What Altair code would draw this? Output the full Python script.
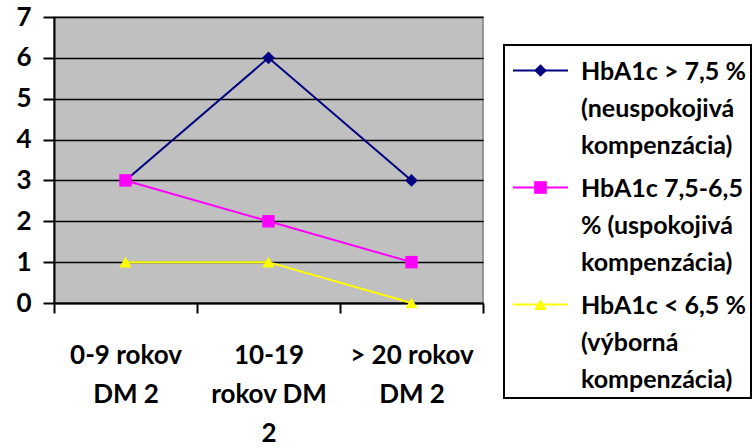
import json

import altair as alt
import pandas as pd

# Categories (diabetes duration) and the three HbA1c groups
categories = ["0-9 rokov\nDM 2", "10-19\nrokov DM\n2", "> 20 rokov\nDM 2"]
series = [
    "HbA1c > 7,5 %\n(neuspokojivá\nkompenzácia)",
    "HbA1c 7,5-6,5\n% (uspokojivá\nkompenzácia)",
    "HbA1c < 6,5 %\n(výborná\nkompenzácia)",
]
values_poor = [3, 6, 3]
values_fair = [3, 2, 1]
values_good = [1, 1, 0]
y_ticks = [0, 1, 2, 3, 4, 5, 6, 7]

colors = ["#000080", "#FF00FF", "#FFFF00"]
shapes = ["diamond", "square", "triangle-up"]
marker_sizes = [160, 150, 200]
FONT = "Lato"

rows = []
for name, vals in zip(series, [values_poor, values_fair, values_good]):
    for i, v in enumerate(vals):
        # each point sits in the middle of its category slot
        rows.append({"series": name, "pos": i + 0.5, "value": v})
df = pd.DataFrame(rows)

W, H = 429, 286
band = W / len(categories)

x_enc = alt.X(
    "pos:Q",
    scale=alt.Scale(domain=[0, len(categories)], nice=False, zero=False),
    axis=alt.Axis(
        values=list(range(len(categories) + 1)),
        grid=False,
        title=None,
        tickSize=10,
        tickWidth=2,
        tickColor="black",
        domainColor="black",
        domainWidth=2,
        labelExpr="split(" + json.dumps(categories) + "[datum.value] || '', '\\n')",
        labelOffset=band / 2,
        labelFlush=False,
        labelOverlap=False,
        labelAlign="center",
        labelBaseline="top",
        labelPadding=29,
        labelLineHeight=39,
        labelFont=FONT,
        labelFontSize=26,
        labelFontWeight="bold",
        labelColor="black",
    ),
)
y_enc = alt.Y(
    "value:Q",
    scale=alt.Scale(domain=[0, 7], nice=False),
    axis=alt.Axis(
        values=y_ticks,
        title=None,
        grid=True,
        gridColor="black",
        gridWidth=1.5,
        tickSize=11,
        tickWidth=2,
        tickColor="black",
        domainColor="black",
        domainWidth=2,
        labelPadding=12,
        labelFont=FONT,
        labelFontSize=26,
        labelFontWeight="bold",
        labelColor="black",
    ),
)

legend_common = dict(
    orient="none",
    legendX=450,
    labelFont=FONT,
    labelFontSize=25,
    labelFontWeight="bold",
    labelColor="black",
    labelLimit=400,
    labelBaseline="alphabetic",
    labelExpr="split(datum.label, '\\n')",
    padding=5,
    rowPadding=17,
    symbolOffset=19,
    labelOffset=28,
)

# legend carrying the frame, the text and the line swatches;
# a blank title leaves the empty band above the first entry
line_legend = alt.Legend(
    legendY=28,
    title=" ",
    titleFontSize=8,
    titlePadding=9,
    symbolType="M-2.75,-0.9H2.75",
    symbolSize=400,
    symbolStrokeWidth=2,
    strokeColor="black",
    **legend_common,
)
# second legend laid over it with the marker swatches
point_legend = alt.Legend(
    legendY=36,
    title=None,
    symbolSize=160,
    symbolStrokeWidth=0,
    labelOpacity=0,
    **legend_common,
)

color_scale = alt.Scale(domain=series, range=colors)
shape_scale = alt.Scale(domain=series, range=shapes)

lines = alt.Chart(df).mark_line(strokeWidth=2).encode(
    x=x_enc,
    y=y_enc,
    color=alt.Color("series:N", scale=color_scale, sort=series, legend=line_legend),
    detail="series:N",
)
points = alt.Chart(df).mark_point(filled=True, opacity=1).encode(
    x=x_enc,
    y=y_enc,
    color=alt.Color("series:N", scale=color_scale, sort=series, legend=point_legend),
    shape=alt.Shape("series:N", scale=shape_scale, sort=series, legend=point_legend),
    size=alt.Size("series:N", scale=alt.Scale(domain=series, range=marker_sizes), legend=None),
)

chart = (
    alt.layer(lines, points)
    .resolve_legend(color="independent", shape="independent")
    .properties(
        width=W,
        height=H,
        autosize=alt.AutoSizeParams(type="none"),
        padding={"left": 54, "top": 17, "right": 755 - 54 - W, "bottom": 448 - 17 - H},
        background="white",
    )
    .configure(style={"guide-label": {"lineHeight": 37}})
    .configure_view(fill="#C0C0C0", stroke="#808080", strokeWidth=1.5)
    .configure_legend(strokeWidth=2)
)

chart.save("out.html", embed_options={"renderer": "svg", "actions": False})
